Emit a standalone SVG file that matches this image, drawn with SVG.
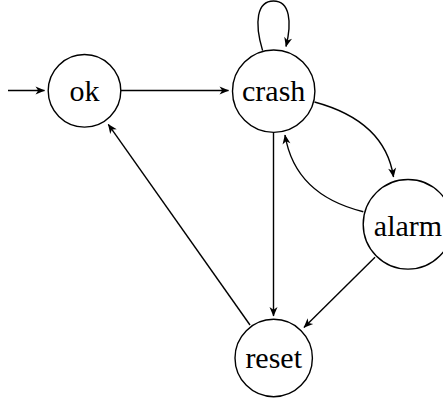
<svg xmlns="http://www.w3.org/2000/svg" width="443" height="400" viewBox="0 0 443 400">
<style>
.node circle{fill:#fff;stroke:#000;stroke-width:1.4}
.node text{font-family:"Liberation Serif","DejaVu Serif",serif;font-size:30px;text-anchor:middle;fill:#000}
.edges path{fill:none;stroke:#000;stroke-width:1.4}
</style>
<defs>
<marker id="arr" viewBox="-10 -5 11 10" refX="0" refY="0" markerWidth="11" markerHeight="10" markerUnits="userSpaceOnUse" orient="auto">
<path d="M0.5,0 L-9,-4 L-6.3,0 L-9,4 Z" fill="#000"/>
</marker>
</defs>
<rect width="443" height="400" fill="#fff"/>
<g class="edges">
<path d="M8,90.5 L44.5,90.5" marker-end="url(#arr)"/>
<path d="M120.8,90.5 L228.5,90.5" marker-end="url(#arr)"/>
<path d="M262.6,50.6 C254,22 257,1 273.5,1 C290,1 292,22 286,46.5" marker-end="url(#arr)"/>
<path d="M314.5,102 Q385,121 393.5,177" marker-end="url(#arr)"/>
<path d="M363.3,211.7 Q295,195 285,135" marker-end="url(#arr)"/>
<path d="M273.5,132.4 L273.5,316" marker-end="url(#arr)"/>
<path d="M375,257.3 L304,327.5" marker-end="url(#arr)"/>
<path d="M250,325 L108.3,124.3" marker-end="url(#arr)"/>
</g>
<g id="ok" class="node"><circle cx="84.5" cy="90.8" r="36.3"/><text x="84.5" y="101">ok</text></g>
<g id="crash" class="node"><circle cx="273.7" cy="91.2" r="41.2"/><text x="273.7" y="101">crash</text></g>
<g id="alarm" class="node"><circle cx="408" cy="224.3" r="44.8"/><text x="408" y="235.5">alarm</text></g>
<g id="reset" class="node"><circle cx="273.7" cy="358" r="38.7"/><text x="273.7" y="368.3">reset</text></g>
</svg>
